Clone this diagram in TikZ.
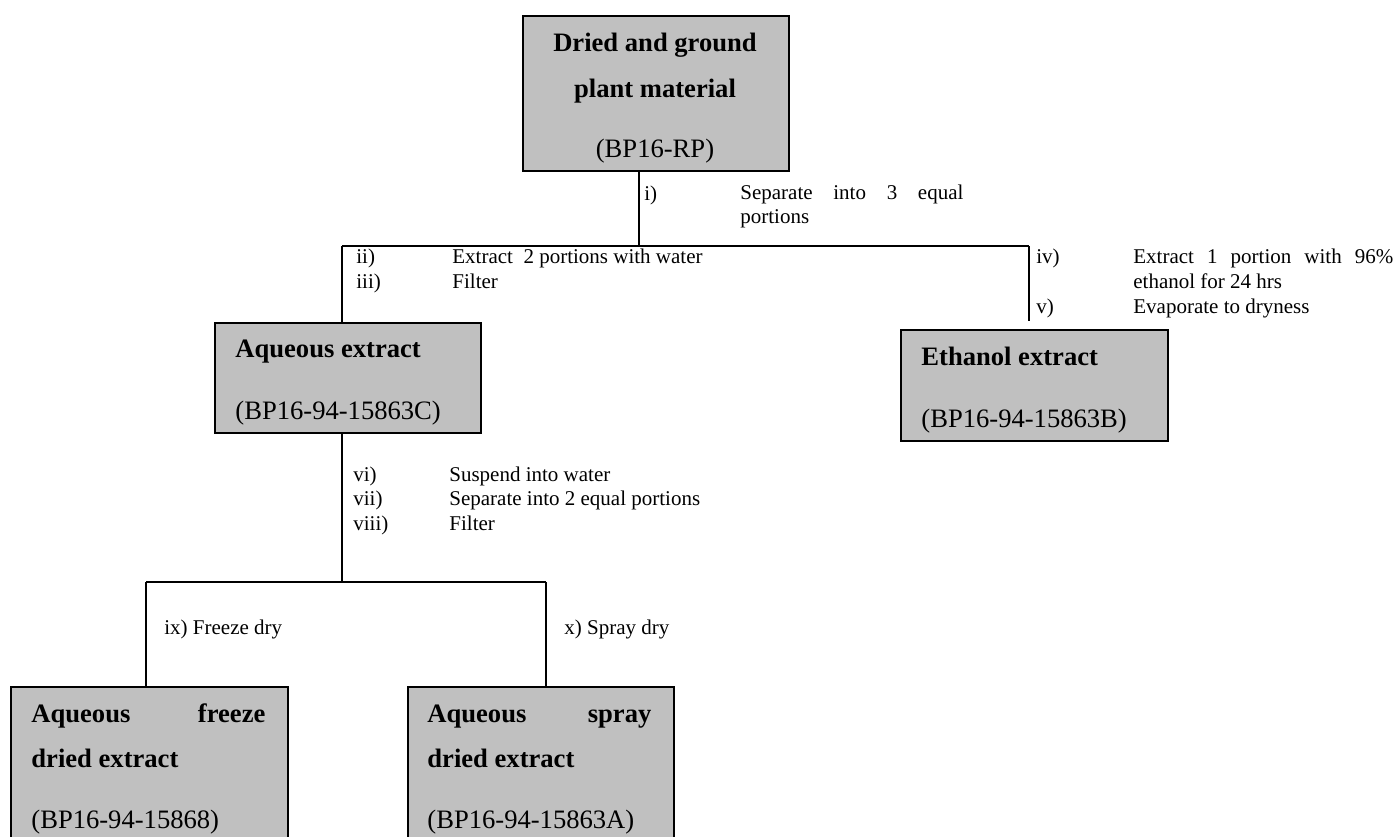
\documentclass[tikz,border=0pt]{standalone}
\usepackage{fontspec}
\setmainfont{Liberation Serif}
\usepackage{tikz}
\usetikzlibrary{positioning}

\definecolor{boxgray}{HTML}{C0C0C0}
\newcommand{\bigtext}{\fontsize{13.3pt}{16pt}\selectfont}
\newcommand{\smalltext}{\fontsize{10.5pt}{12.5pt}\selectfont}

\tikzset{
    box/.style={draw, line width=1.1pt, fill=boxgray, rectangle, anchor=north west, inner sep=0pt},
    title/.style={inner sep=0pt, font=\bigtext\bfseries},
    code/.style={inner sep=0pt, font=\bigtext, anchor=base west},
    step label/.style={inner sep=0pt, font=\smalltext, anchor=base west},
    link/.style={line width=0.9pt}
}

\begin{document}
\begin{tikzpicture}[x=0.5pt, y=-0.5pt]
    \useasboundingbox (0,0) rectangle (1398,836);

    % Define boxes
    \node[box, minimum width=133pt, minimum height=77.5pt] (plant) at (522,15) {};
    \node[box, minimum width=133pt, minimum height=55pt] (aqueous) at (214,322) {};
    \node[box, minimum width=133.5pt, minimum height=55.5pt] (ethanol) at (900,329) {};
    \node[box, minimum width=138.5pt, minimum height=110pt] (freeze) at (10,686) {};
    \node[box, minimum width=133pt, minimum height=110pt] (spray) at (407,686) {};

    % Box texts
    \node[title, anchor=base] (plant1) at (655,51) {Dried and ground};
    \node[title, anchor=base] (plant2) at (655,97) {plant material};
    \node[code, anchor=base] (plant3) at (655,157) {(BP16-RP)};
    \node[title, anchor=base west] (aqueous1) at (235,357) {Aqueous extract};
    \node[code] (aqueous2) at (235,419) {(BP16-94-15863C)};
    \node[title, anchor=base west] (ethanol1) at (921,365) {Ethanol extract};
    \node[code] (ethanol2) at (921,427) {(BP16-94-15863B)};
    \node[title, anchor=base west] (freeze1) at (31,722) {\makebox[117pt][s]{Aqueous freeze}};
    \node[title, anchor=base west] (freeze2) at (31,767) {dried extract};
    \node[code] (freeze3) at (31,828) {(BP16-94-15868)};
    \node[title, anchor=base west] (spray1) at (427,722) {\makebox[112pt][s]{Aqueous spray}};
    \node[title, anchor=base west] (spray2) at (427,767) {dried extract};
    \node[code] (spray3) at (427,828) {(BP16-94-15863A)};

    % Junctions
    \coordinate (split1) at (639,246);
    \coordinate (left1) at (342,246);
    \coordinate (right1) at (1029,246);
    \coordinate (right1end) at (1029,321);
    \coordinate (split2) at (342,582);
    \coordinate (left2) at (146,582);
    \coordinate (right2) at (546,582);

    % Draw lines
    \draw[link] (plant.south -| split1) -- (split1);
    \draw[link] (left1) -- (right1);
    \draw[link] (left1) -- (aqueous.north -| left1);
    \draw[link] (right1) -- (right1end);
    \draw[link] (aqueous.south -| split2) -- (split2);
    \draw[link] (left2) -- (right2);
    \draw[link] (left2) -- (freeze.north -| left2);
    \draw[link] (right2) -- (spray.north -| right2);

    % Step labels
    \node[step label] (s1) at (644,200) {i)};
    \node[step label] (s1a) at (740,199) {\makebox[111.5pt][s]{Separate into 3 equal}};
    \node[step label] (s1b) at (740,223) {portions};
    \node[step label] (s2) at (356,263) {ii)};
    \node[step label] (s2a) at (452,263) {Extract\ \ 2 portions with water};
    \node[step label] (s3) at (356,288) {iii)};
    \node[step label] (s3a) at (452,288) {Filter};
    \node[step label] (s4) at (1036,263) {iv)};
    \node[step label] (s4a) at (1133,263) {\makebox[130pt][s]{Extract 1 portion with 96\%}};
    \node[step label] (s4b) at (1133,288) {ethanol for 24 hrs};
    \node[step label] (s5) at (1036,313) {v)};
    \node[step label] (s5a) at (1133,313) {Evaporate to dryness};
    \node[step label] (s6) at (353,481) {vi)};
    \node[step label] (s6a) at (449,481) {Suspend into water};
    \node[step label] (s7) at (353,505) {vii)};
    \node[step label] (s7a) at (449,505) {Separate into 2 equal portions};
    \node[step label] (s8) at (353,530) {viii)};
    \node[step label] (s8a) at (449,530) {Filter};
    \node[step label] (s9) at (164,634) {ix) Freeze dry};
    \node[step label] (s10) at (564,634) {x) Spray dry};
\end{tikzpicture}
\end{document}
